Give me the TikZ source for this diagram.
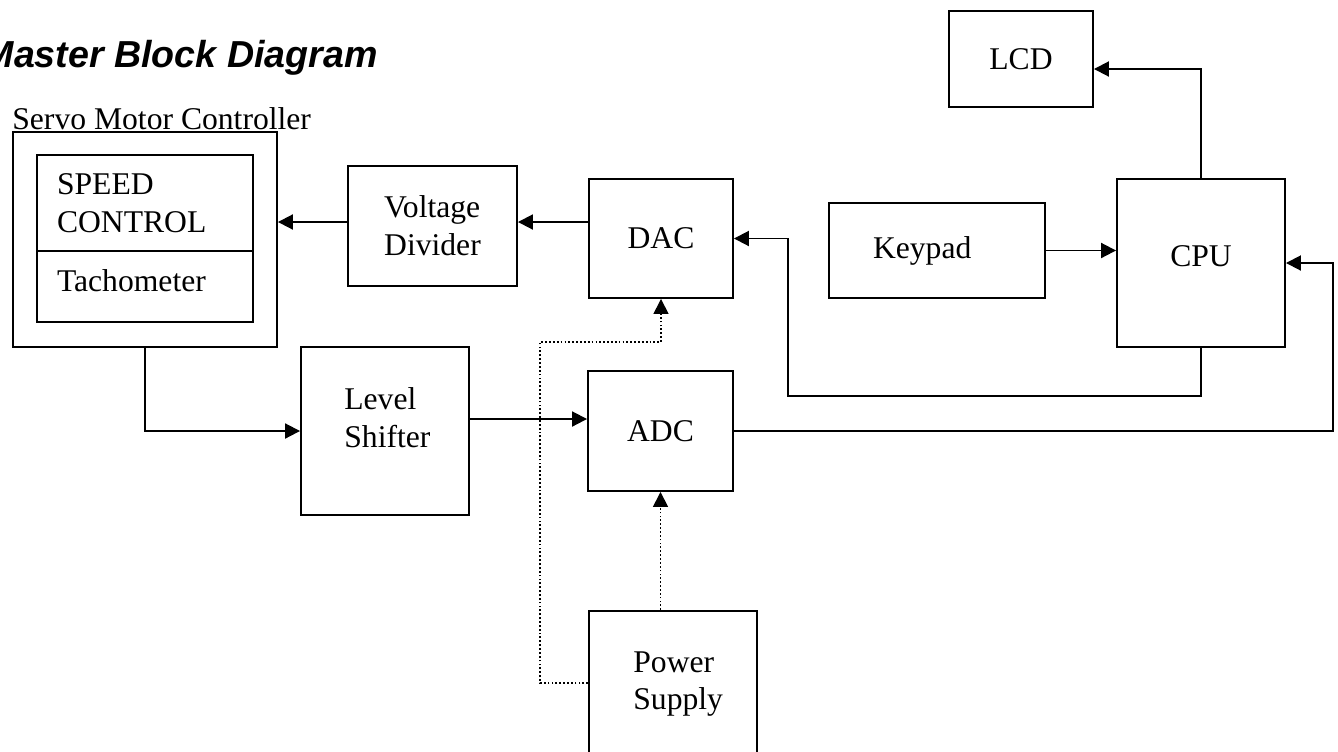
\documentclass[tikz,border=0pt]{standalone}
\usepackage{fontspec}
\setmainfont{Liberation Serif}
\newfontfamily\headfont{Liberation Sans}
\usetikzlibrary{arrows.meta}

\begin{document}
\begin{tikzpicture}[
    x=0.02cm, y=-0.02cm,
    every node/.style={font=\fontsize{18}{21.5}\selectfont},
    box/.style={draw, line width=1.1pt, inner sep=0pt},
    txt/.style={align=left, inner sep=0pt},
    wire/.style={line width=1.1pt, -{Triangle[length=0.3cm, width=0.3cm]}},
    supply/.style={line width=0.9pt, dash pattern=on 1pt off 1.2pt, -{Triangle[length=0.3cm, width=0.3cm]}},
]
\useasboundingbox (0,0) rectangle (1338,751);

\node[anchor=base east, inner sep=0pt, font=\headfont\bfseries\itshape\fontsize{21.4}{24}\selectfont] (title) at (378,67) {Master Block Diagram};

% servo motor controller
\node[box, minimum width=5.28cm, minimum height=4.30cm] (servo) at (145,239.5) {};
\node[anchor=base west, inner sep=0pt] (servolbl) at (12,129) {Servo Motor Controller};
\node[box, minimum width=4.32cm, minimum height=1.92cm, text width=3.52cm, align=left] (speed) at (145,203) {SPEED\\CONTROL};
\node[box, minimum width=4.32cm, minimum height=1.42cm, text width=3.52cm, align=left, text depth=0.24cm] (tacho) at (145,286.5) {Tachometer};

% blocks
\node[box, minimum width=3.38cm, minimum height=2.40cm, align=left] (vd) at (432.5,226) {Voltage\\Divider};
\node[box, minimum width=2.88cm, minimum height=2.38cm] (dac) at (661,238.5) {DAC};
\node[box, minimum width=2.90cm, minimum height=2.40cm] (adc) at (660.5,431) {ADC};
\node[box, minimum width=3.36cm, minimum height=3.36cm] (ls) at (385,431) {};
\node[txt, anchor=west] (lslbl) at (344,418) {Level\\Shifter};
\node[box, minimum width=3.36cm, minimum height=3.58cm] (ps) at (673,700.5) {};
\node[txt, anchor=west] (pslbl) at (633,684) {Power\\Supply};
\node[box, minimum width=4.32cm, minimum height=1.90cm, text width=2.56cm, align=left] (keypad) at (937,250.5) {Keypad};
\node[box, minimum width=3.36cm, minimum height=3.36cm, text depth=0.28cm] (cpu) at (1201,263) {CPU};
\node[box, minimum width=2.88cm, minimum height=1.92cm] (lcd) at (1021,59) {LCD};

% signal paths
\draw[wire] (cpu.north) |- ([yshift=-0.2cm]lcd.east);
\draw[wire] (keypad.east) -- (keypad.east -| cpu.west);
\draw[wire] ([yshift=0.33cm]dac.west) -- ([yshift=0.33cm]dac.west -| vd.east);
\draw[wire] ([yshift=0.08cm]vd.west) -- ([yshift=0.08cm]vd.west -| servo.east);
\draw[wire] (cpu.south) -- ++(0,48) -| ([xshift=1.08cm]dac.east) -- (dac.east);
\draw[wire] (adc.east) -| ([xshift=0.94cm]cpu.east) -- (cpu.east);
\draw[wire] (servo.south) |- (ls.west);
\draw[wire] ([yshift=0.24cm]ls.east) -- ([yshift=0.24cm]ls.east -| adc.west);

% supply lines
\draw[supply] (adc.south |- ps.north) -- (adc.south);
\draw[supply] ([yshift=0.35cm]ps.west) -- ++(-48,0) |- ([yshift=-0.86cm]dac.south) -- (dac.south);
\end{tikzpicture}
\end{document}
